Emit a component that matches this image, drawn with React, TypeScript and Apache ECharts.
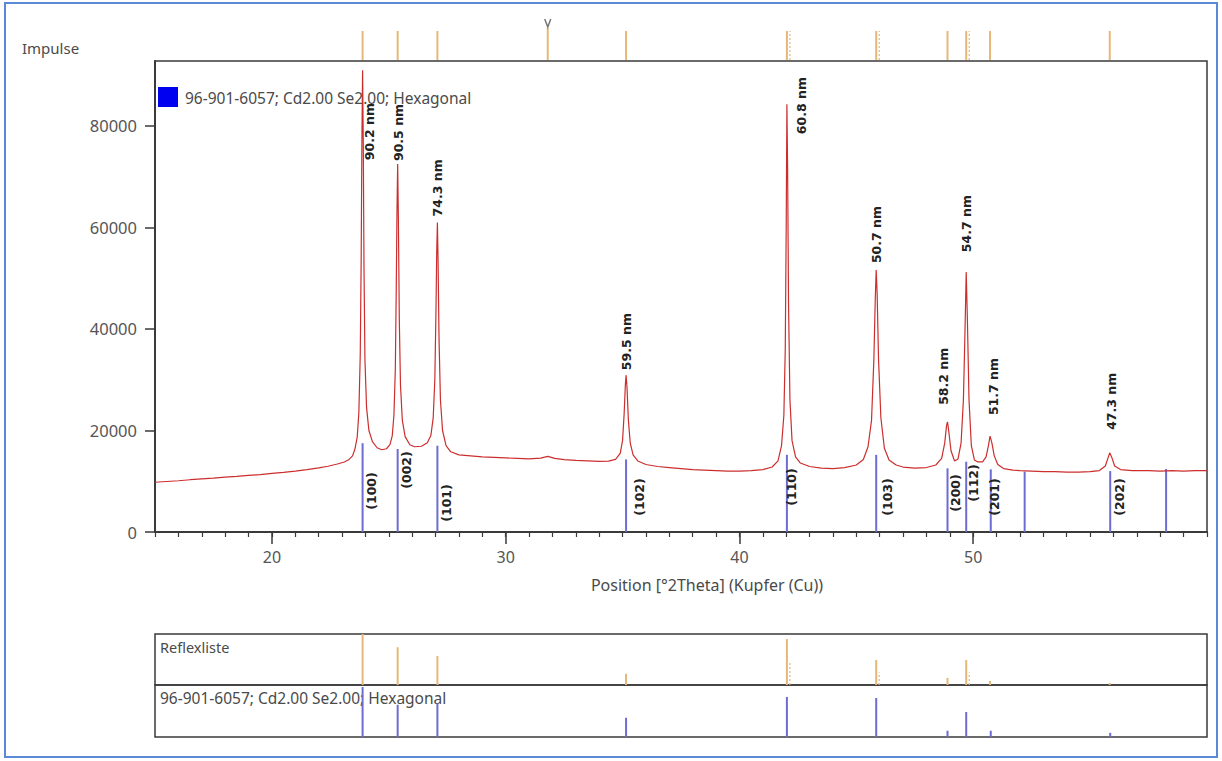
import React, { useEffect, useRef } from "react";
import * as echarts from "echarts";

// ---- Measured diffractogram (position °2θ, counts) ----
const profileTheta = [
  15.0, 15.5, 16.0, 16.5, 17.0, 17.5, 18.0, 18.5, 19.0, 19.5, 20.0, 20.5, 21.0, 21.5, 22.0, 22.4, 22.8, 23.1, 23.3,
  23.45, 23.55, 23.65, 23.72, 23.78, 23.82, 23.85, 23.88, 23.91, 23.94, 23.98, 24.05, 24.15, 24.3, 24.5, 24.7, 24.9,
  25.05, 25.15, 25.22, 25.28, 25.32, 25.35, 25.38, 25.41, 25.45, 25.5, 25.58, 25.7, 25.9, 26.1, 26.4, 26.65, 26.8,
  26.9, 26.97, 27.02, 27.05, 27.08, 27.11, 27.15, 27.21, 27.3, 27.45, 27.65, 28.0, 28.5, 29.0, 29.5, 30.0, 30.5,
  31.0, 31.5, 31.8, 32.1, 32.5, 33.0, 33.5, 34.0, 34.4, 34.7, 34.9, 35.0, 35.07, 35.12, 35.15, 35.19, 35.25, 35.33,
  35.45, 35.65, 36.0, 36.5, 37.0, 37.5, 38.0, 38.5, 39.0, 39.5, 40.0, 40.5, 41.0, 41.4, 41.65, 41.8, 41.9, 41.96,
  42.0, 42.03, 42.06, 42.1, 42.16, 42.25, 42.4, 42.6, 43.0, 43.5, 44.0, 44.5, 45.0, 45.3, 45.5, 45.65, 45.75, 45.81,
  45.85, 45.89, 45.95, 46.05, 46.2, 46.4, 46.7, 47.0, 47.5, 48.0, 48.4, 48.65, 48.78, 48.86, 48.9, 48.95, 49.05, 49.2,
  49.35, 49.48, 49.58, 49.65, 49.7, 49.75, 49.82, 49.92, 50.05, 50.2, 50.4, 50.55, 50.65, 50.72, 50.8, 50.9, 51.05,
  51.3, 51.7, 52.0, 52.5, 53.0, 53.5, 54.0, 54.5, 55.0, 55.4, 55.65, 55.76, 55.84, 55.92, 56.05, 56.3, 56.8, 57.5,
  58.0, 58.5, 59.0, 59.5, 60.0,
];
const profileCounts = [
  9800, 9950, 10100, 10300, 10450, 10600, 10800, 10950, 11150, 11300, 11550, 11750, 12000, 12300, 12650, 12950, 13400, 13800, 14300,
  15000, 16300, 18700, 23500, 35000, 54000, 77000, 91000, 76000, 52000, 34000, 24500, 20000, 17800, 16600, 16200, 16400,
  17200, 19000, 23000, 32000, 48000, 63000, 72500, 62000, 42000, 29000, 22000, 18800, 17200, 16800, 16900, 17600, 19000,
  22500, 30000, 44000, 55000, 61000, 53000, 38000, 26000, 20000, 17000, 15800, 15200, 15000, 14800, 14700, 14600, 14500,
  14400, 14550, 14900, 14500, 14250, 14100, 14000, 13900, 13950, 14300, 15500, 18000, 23500, 29000, 30900, 28500, 22000, 17500,
  15200, 14000, 13300, 12900, 12700, 12500, 12300, 12200, 12100, 12000, 12000, 12100, 12300, 12800, 14000, 17000, 23000, 36000,
  60000, 84300, 72000, 45000, 26000, 18000, 14800, 13600, 12900, 12600, 12500, 12700, 13200, 14300, 16800, 22000, 34000, 46000,
  51600, 47000, 34000, 22500, 16500, 14200, 13200, 12800, 12600, 12700, 13200, 14500, 17500, 21000, 21700, 20000, 16000, 14000,
  14400, 17500, 26000, 40000, 51200, 42000, 26000, 17000, 14200, 13800, 13800, 14800, 17000, 18900, 17500, 15000, 13300,
  12500, 12200, 12100, 12000, 11900, 11900, 11800, 11800, 11900, 12100, 13000, 14500, 15600, 14800, 13000, 12300, 12100, 12100,
  12000, 12100, 12000, 12100, 12100,
];

// ---- Reference pattern 96-901-6057; Cd2.00 Se2.00; Hexagonal ----
const refTheta = [23.88, 25.38, 27.08, 35.15, 42.03, 45.85, 48.9, 49.7, 50.75, 52.2, 55.86, 58.25];
const refStickCounts = [17500, 16350, 17000, 14300, 15200, 15200, 12550, 13850, 12350, 11900, 12000, 12400];
const refRelInt = [96, 62, 65, 37, 77, 75, 12, 48, 12, 0, 8, 0];
const refHkl = ["(100)", "(002)", "(101)", "(102)", "(110)", "(103)", "(200)", "(112)", "(201)", "", "(202)", ""];

// ---- Peak list (Reflexliste) ----
const peakTheta = [23.88, 25.38, 27.08, 35.15, 42.03, 45.85, 48.9, 49.7, 50.72, 55.84];
const peakCounts = [91000, 72500, 61000, 30900, 84300, 51600, 21700, 51200, 18900, 15600];
const peakSize = ["90.2 nm", "90.5 nm", "74.3 nm", "59.5 nm", "60.8 nm", "50.7 nm", "58.2 nm", "54.7 nm", "51.7 nm", "47.3 nm"];
const peakRelInt = [100, 74, 57, 22, 90, 49, 14, 49, 8, 4];
const peakKa2 = [0, 0, 0, 0, 1, 1, 0, 1, 0, 0];
const extraImpulseTheta = [31.8];

const yTicks = [0, 20000, 40000, 60000, 80000];
const xTicks = [20, 30, 40, 50];

// ---- layout (pixels) for annotation labels ----
const sizeLabelDx = [7, 1, 0, 0, 15, 0, -4, 0, 3, 2];
const sizeLabelGap = [-90, 3, 6, 5, -30, 7, 17, 20, 21, 23];
const hklDx = [9, 9, 9, 13, 5, 11, 8, 7, 4, 0, 9, 0];
const hklRise = [41, 62, 29, 35, 45, 35, 39, 49, 35, 0, 35, 0];

const RED = "#cc2e2e";
const BLUE = "#6c6cd2";
const ORANGE = "#e6b778";
const FRAME = "#3a3a3a";
const TXT = "#4a4a4a";
const SANS = '"Noto Sans", "Open Sans", sans-serif';
const BOLD = 'bold 12.5px "DejaVu Sans", sans-serif';

export default function App() {
  const ref = useRef<HTMLDivElement>(null);

  useEffect(() => {
    if (!ref.current) return;
    const chart = echarts.init(ref.current, null, { renderer: "svg" });

    const profile = profileTheta.map((t, i) => [t, profileCounts[i]]);
    const refMain = refTheta.map((t, i) => [t, refStickCounts[i], i]);
    const peakData = peakTheta.map((t, i) => [t, peakCounts[i], i]);
    const impulseData = peakTheta.map((t, i) => [t, 1, i, 0]).concat(extraImpulseTheta.map((t, i) => [t, 1, i, 1]));
    const reflexData = peakTheta.map((t, i) => [t, peakRelInt[i], i]);
    const refPatData = refTheta.map((t, i) => [t, refRelInt[i], i]);

    const hiddenX = (gi: number) => ({
      type: "value", gridIndex: gi, min: 15, max: 60, show: false,
    });

    const option: any = {
      animation: false,
      backgroundColor: "#ffffff",
      grid: [
        { left: 155, top: 61, width: 1052, height: 471, show: true, borderColor: FRAME, borderWidth: 1.5 },
        { left: 155, top: 31, width: 1052, height: 29 },
        { left: 155, top: 634, width: 1052, height: 51, show: true, borderColor: FRAME, borderWidth: 1.5 },
        { left: 155, top: 685, width: 1052, height: 52, show: true, borderColor: FRAME, borderWidth: 1.5 },
      ],
      xAxis: [
        {
          type: "value", gridIndex: 0, min: 15, max: 60, position: "bottom",
          axisLine: { show: true, onZero: false, lineStyle: { color: FRAME, width: 2 } },
          axisTick: { show: true, customValues: xTicks, length: 12, lineStyle: { color: FRAME, width: 1.5 } },
          axisLabel: { customValues: xTicks, margin: 17, color: "#555", fontSize: 16, fontFamily: SANS },
          splitLine: { show: false },
        },
        {
          type: "value", gridIndex: 0, min: 15, max: 60, interval: 1, position: "bottom",
          axisLine: { show: false },
          axisTick: { show: true, length: 5, lineStyle: { color: FRAME, width: 1.2 } },
          axisLabel: { show: false },
          splitLine: { show: false },
        },
        hiddenX(1),
        hiddenX(2),
        hiddenX(3),
      ],
      yAxis: [
        {
          type: "value", gridIndex: 0, min: 0, max: 92800, interval: 20000,
          axisLine: { show: true, lineStyle: { color: FRAME, width: 2 } },
          axisTick: { show: true, customValues: yTicks, length: 10, lineStyle: { color: FRAME, width: 1.5 } },
          axisLabel: {
            customValues: yTicks, margin: 18, color: "#555", fontSize: 16.5, fontFamily: SANS,
            formatter: (v: number) => String(v),
          },
          splitLine: { show: false },
        },
        { type: "value", gridIndex: 1, min: 0, max: 1, show: false },
        { type: "value", gridIndex: 2, min: 0, max: 100, show: false },
        { type: "value", gridIndex: 3, min: 0, max: 100, show: false },
      ],
      series: [
        {
          type: "custom", name: "refMain", xAxisIndex: 0, yAxisIndex: 0, z: 2,
          data: refMain, encode: { x: 0, y: 1 },
          renderItem: (_p: any, api: any) => {
            const i = api.value(2);
            const b = api.coord([api.value(0), 0]);
            const t = api.coord([api.value(0), api.value(1)]);
            const children: any[] = [
              { type: "line", shape: { x1: b[0], y1: b[1], x2: t[0], y2: t[1] }, style: { stroke: BLUE, lineWidth: 2 } },
            ];
            if (refHkl[i]) {
              children.push({
                type: "text", x: b[0] + hklDx[i], y: b[1] - hklRise[i], rotation: Math.PI / 2,
                style: { text: refHkl[i], align: "center", verticalAlign: "middle", font: BOLD, fill: "#222" },
              });
            }
            return { type: "group", children };
          },
        },
        {
          type: "line", name: "profile", xAxisIndex: 0, yAxisIndex: 0, z: 3,
          data: profile, showSymbol: false, symbol: "none",
          lineStyle: { color: RED, width: 1.2 }, clip: true,
        },
        {
          type: "custom", name: "sizes", xAxisIndex: 0, yAxisIndex: 0, z: 4,
          data: peakData, encode: { x: 0, y: 1 },
          renderItem: (_p: any, api: any) => {
            const i = api.value(2);
            const t = api.coord([api.value(0), api.value(1)]);
            return {
              type: "text", x: t[0] + sizeLabelDx[i], y: t[1] - sizeLabelGap[i], rotation: Math.PI / 2,
              style: { text: peakSize[i], align: "left", verticalAlign: "middle", font: BOLD, fill: "#222" },
            };
          },
        },
        {
          type: "custom", name: "impulse", xAxisIndex: 2, yAxisIndex: 1,
          data: impulseData, encode: { x: 0, y: 1 },
          renderItem: (_p: any, api: any) => {
            const i = api.value(2);
            const extra = api.value(3) === 1;
            const b = api.coord([api.value(0), 0]);
            const t = api.coord([api.value(0), 1]);
            const children: any[] = [];
            if (extra) {
              children.push({ type: "line", shape: { x1: b[0], y1: b[1], x2: t[0], y2: t[1] - 3 }, style: { stroke: ORANGE, lineWidth: 2 } });
              children.push({
                type: "polyline",
                shape: { points: [[t[0] - 3, t[1] - 12], [t[0], t[1] - 4], [t[0] + 3, t[1] - 12]] },
                style: { stroke: "#777", lineWidth: 1.5, fill: "none" },
              });
            } else {
              children.push({ type: "line", shape: { x1: b[0], y1: b[1], x2: t[0], y2: t[1] }, style: { stroke: ORANGE, lineWidth: 2 } });
              if (peakKa2[i]) {
                children.push({ type: "line", shape: { x1: b[0] + 3, y1: b[1], x2: t[0] + 3, y2: t[1] }, style: { stroke: ORANGE, lineWidth: 1.2, lineDash: [2, 2] } });
              }
            }
            return { type: "group", children };
          },
        },
        {
          type: "custom", name: "reflexliste", xAxisIndex: 3, yAxisIndex: 2,
          data: reflexData, encode: { x: 0, y: 1 },
          renderItem: (_p: any, api: any) => {
            const i = api.value(2);
            const b = api.coord([api.value(0), 0]);
            const t = api.coord([api.value(0), api.value(1)]);
            const children: any[] = [
              { type: "line", shape: { x1: b[0], y1: b[1], x2: t[0], y2: t[1] }, style: { stroke: ORANGE, lineWidth: 2 } },
            ];
            if (peakKa2[i]) {
              const h = api.coord([api.value(0), api.value(1) / 2]);
              children.push({ type: "line", shape: { x1: b[0] + 3, y1: b[1], x2: h[0] + 3, y2: h[1] }, style: { stroke: ORANGE, lineWidth: 1.2, lineDash: [2, 2] } });
            }
            return { type: "group", children };
          },
        },
        {
          type: "custom", name: "refPattern", xAxisIndex: 4, yAxisIndex: 3,
          data: refPatData, encode: { x: 0, y: 1 },
          renderItem: (_p: any, api: any) => {
            if (api.value(1) <= 0) return null;
            const b = api.coord([api.value(0), 0]);
            const t = api.coord([api.value(0), api.value(1)]);
            return { type: "line", shape: { x1: b[0], y1: b[1], x2: t[0], y2: t[1] }, style: { stroke: BLUE, lineWidth: 2 } };
          },
        },
      ],
      graphic: [
        { type: "rect", shape: { x: 5, y: 3, width: 1212, height: 754 }, style: { fill: "none", stroke: "#5a8ad6", lineWidth: 2 }, z: 0 },
        { type: "text", x: 22, y: 48, style: { text: "Impulse", font: `15px ${SANS}`, fill: TXT, verticalAlign: "middle" } },
        { type: "rect", shape: { x: 158, y: 87, width: 20, height: 20 }, style: { fill: "#0000f0" } },
        { type: "text", x: 185, y: 98, style: { text: "96-901-6057; Cd2.00 Se2.00; Hexagonal", font: `15.5px ${SANS}`, fill: TXT, verticalAlign: "middle" } },
        { type: "text", x: 707, y: 585, style: { text: "Position [°2Theta] (Kupfer (Cu))", font: `16px ${SANS}`, fill: TXT, align: "center", verticalAlign: "middle" } },
        { type: "text", x: 160, y: 647, style: { text: "Reflexliste", font: `14.5px ${SANS}`, fill: TXT, verticalAlign: "middle" } },
        { type: "text", x: 160, y: 698, style: { text: "96-901-6057; Cd2.00 Se2.00; Hexagonal", font: `15.5px ${SANS}`, fill: TXT, verticalAlign: "middle" } },
      ],
    };

    chart.setOption(option);
    return () => chart.dispose();
  }, []);

  return (
    <div
      ref={ref}
      style={{ position: "absolute", left: 0, top: 0, width: 1222, height: 761, background: "#fff" }}
    />
  );
}
